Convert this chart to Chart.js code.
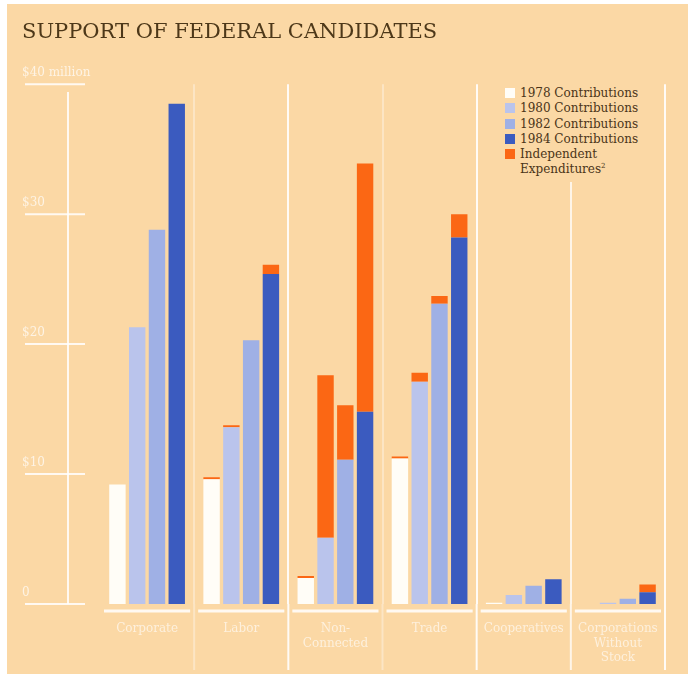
<!DOCTYPE html>
<html>
<head>
<meta charset="utf-8">
<title>Support of Federal Candidates</title>
<script src="https://cdn.jsdelivr.net/npm/chart.js@4.4.0/dist/chart.umd.min.js"></script>
<style>
  body { margin: 0; background: #fff; }
  #frame { position: relative; width: 696px; height: 674px; background: #fff; overflow: hidden; }
  #paper { position: absolute; left: 7px; top: 4px; width: 681px; height: 670px; background: #fbd8a5; }
  #chartBox { position: absolute; left: 0; top: 0; width: 696px; height: 674px; }
  #legend {
    position: absolute; left: 502px; top: 84px; width: 146px;
    padding: 2px 0 4px 3px; background: #fbd8a5;
    font-family: 'DejaVu Serif', serif; font-size: 12px; line-height: 15.3px; color: #4a3418;
  }
  #legend .row { display: flex; align-items: flex-start; }
  #legend .swatch { width: 10px; height: 10px; margin: 2px 5px 0 0; flex: none; }
  #legend .text { width: 126px; }
  #legend sup { font-size: 7px; line-height: 0; }
</style>
</head>
<body>
<div id="frame">
  <div id="paper"></div>
  <div id="chartBox"><canvas id="support"></canvas></div>
  <div id="legend"></div>
</div>
<script>
// PAC support of federal candidates, $ millions
const categories = ['Corporate', 'Labor', ['Non-', 'Connected'], 'Trade', 'Cooperatives', ['Corporations', 'Without', 'Stock']];
const years = ['1978', '1980', '1982', '1984'];

const contrib1978 = [9.2, 9.6, 2.0, 11.2, 0.1, 0];
const contrib1980 = [21.3, 13.6, 5.1, 17.1, 0.7, 0.1];
const contrib1982 = [28.8, 20.3, 11.1, 23.1, 1.4, 0.4];
const contrib1984 = [38.5, 25.4, 14.8, 28.2, 1.9, 0.9];

const indep1978 = [0, 0.15, 0.15, 0.15, 0, 0];
const indep1980 = [0, 0.15, 12.5, 0.7, 0, 0];
const indep1982 = [0, 0, 4.2, 0.6, 0, 0];
const indep1984 = [0, 0.7, 19.1, 1.8, 0, 0.6];

const yTicks = [0, 10, 20, 30, 40];

const yearColors = ['#fffdf7', '#bac4ec', '#9fb0e5', '#3b5bbf'];
const indepColor = '#fb6714';
const rule = 'rgba(255,255,255,0.85)';

// boundary lines between groups; the outer left one is hidden
const sepColors = [
    'rgba(255,255,255,0)', 'rgba(255,255,255,0.35)', 'rgba(255,255,255,0.9)',
    'rgba(255,255,255,0.35)', 'rgba(255,255,255,0.9)', 'rgba(255,255,255,0.75)',
    'rgba(255,255,255,0.9)'
];

const contribSeries = [contrib1978, contrib1980, contrib1982, contrib1984];
const indepSeries = [indep1978, indep1980, indep1982, indep1984];

const datasets = [];
years.forEach(function(yr, i) {
    datasets.push({
        label: yr + ' Contributions',
        data: contribSeries[i],
        backgroundColor: yearColors[i],
        stack: yr
    });
});
years.forEach(function(yr, i) {
    datasets.push({
        label: 'Independent Expenditures',
        data: indepSeries[i],
        backgroundColor: indepColor,
        stack: yr
    });
});

// axis rules drawn off the scales: value rule, label underlines,
// group underlines and the separators carried down past the labels
const ruling = {
    id: 'ruling',
    beforeDatasetsDraw(chart) {
        const { ctx, chartArea, scales: { x, y } } = chart;
        const left = chartArea.left;
        const bottom = chartArea.bottom;
        ctx.save();
        ctx.strokeStyle = rule;
        ctx.lineWidth = 2;
        ctx.beginPath();
        ctx.moveTo(left - 32, y.getPixelForValue(39.4));
        ctx.lineTo(left - 32, y.getPixelForValue(0));
        ctx.stroke();
        yTicks.forEach(function(v) {
            const py = y.getPixelForValue(v);
            ctx.beginPath();
            ctx.moveTo(left - 75, py);
            ctx.lineTo(left - 15, py);
            ctx.stroke();
        });
        const step = x.getPixelForValue(1) - x.getPixelForValue(0);
        sepColors.forEach(function(col, i) {
            const px = x.getPixelForValue(0) - step / 2 + i * step;
            ctx.strokeStyle = col;
            ctx.beginPath();
            ctx.moveTo(px, bottom);
            ctx.lineTo(px, bottom + 66);
            ctx.stroke();
        });
        ctx.strokeStyle = rule;
        ctx.lineWidth = 3;
        categories.forEach(function(c, i) {
            const cx = x.getPixelForValue(i);
            ctx.beginPath();
            ctx.moveTo(cx - step / 2 + 4, bottom + 7);
            ctx.lineTo(cx + step / 2 - 4, bottom + 7);
            ctx.stroke();
        });
        ctx.restore();
    }
};

const chart = new Chart(document.getElementById('support').getContext('2d'), {
    type: 'bar',
    data: { labels: categories, datasets: datasets },
    plugins: [ruling],
    options: {
        responsive: true,
        maintainAspectRatio: false,
        animation: false,
        categoryPercentage: 0.84,
        barPercentage: 0.83,
        layout: { padding: { top: 20, left: 22, right: 31, bottom: 9 } },
        plugins: {
            legend: { display: false },
            tooltip: { enabled: false },
            title: {
                display: true,
                text: 'SUPPORT OF FEDERAL CANDIDATES',
                align: 'start',
                color: '#4d3819',
                font: { family: 'DejaVu Serif', size: 21, weight: 'normal' },
                padding: { top: 0, bottom: 39 }
            }
        },
        scales: {
            x: {
                stacked: true,
                afterFit: function(scale) { scale.height = 61; },
                border: { display: false },
                grid: {
                    offset: true,
                    lineWidth: 2,
                    drawTicks: false,
                    color: function(c) { return sepColors[c.index] || sepColors[6]; }
                },
                ticks: {
                    autoSkip: false,
                    maxRotation: 0,
                    padding: 18,
                    color: 'rgba(255,255,255,0.62)',
                    font: { family: 'DejaVu Serif', size: 12 }
                }
            },
            y: {
                stacked: true,
                min: 0,
                max: 40,
                afterFit: function(scale) { scale.width = 78; },
                border: { display: false },
                grid: { display: false },
                ticks: {
                    stepSize: 10,
                    crossAlign: 'far',
                    labelOffset: -11,
                    color: 'rgba(255,255,255,0.7)',
                    font: { family: 'DejaVu Serif', size: 12 },
                    callback: function(v) {
                        if (v === 40) return '$40 million';
                        if (v === 0) return '0';
                        return '$' + v;
                    }
                }
            }
        }
    }
});

// legend: the four contribution years plus one entry for independent spending
const legendEl = document.getElementById('legend');
const legendRows = chart.data.datasets.slice(0, 4).map(function(ds) {
    return { color: ds.backgroundColor, html: ds.label };
});
legendRows.push({ color: indepColor, html: 'Independent Expenditures<sup>2</sup>' });
legendRows.forEach(function(item) {
    const row = document.createElement('div');
    row.className = 'row';
    row.innerHTML =
        '<span class="swatch" style="background:' + item.color + '"></span>' +
        '<span class="text">' + item.html + '</span>';
    legendEl.appendChild(row);
});
</script>
</body>
</html>
